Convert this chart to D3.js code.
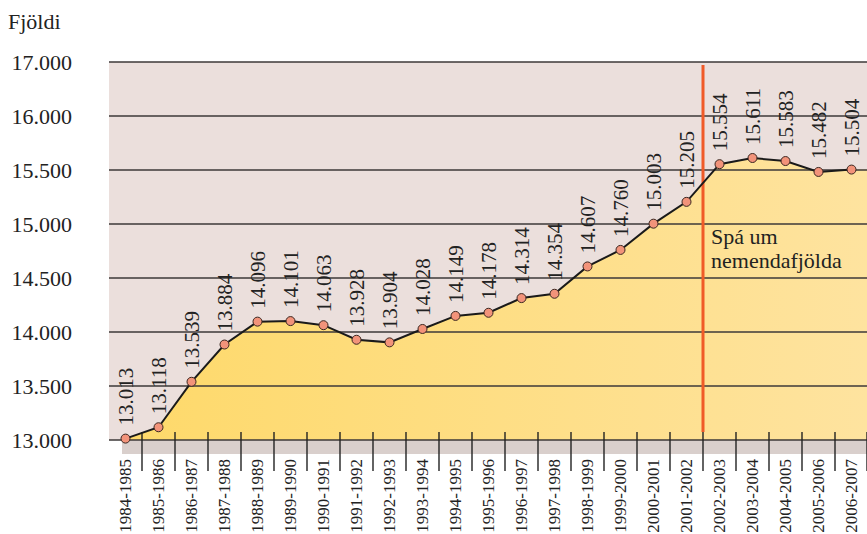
<!DOCTYPE html>
<html>
<head>
<meta charset="utf-8">
<script src="https://cdn.jsdelivr.net/npm/d3@7"></script>
<style>
  body { margin: 0; background: #fff; }
  text { font-family: "Liberation Serif", "DejaVu Serif", serif; fill: #222; }
</style>
</head>
<body>
<div id="chart"></div>
<script>
// school years and number of students
var years = ["1984-1985","1985-1986","1986-1987","1987-1988","1988-1989","1989-1990",
  "1990-1991","1991-1992","1992-1993","1993-1994","1994-1995","1995-1996","1996-1997",
  "1997-1998","1998-1999","1999-2000","2000-2001","2001-2002","2002-2003","2003-2004",
  "2004-2005","2005-2006","2006-2007"];
var students = [13013,13118,13539,13884,14096,14101,14063,13928,13904,14028,14149,14178,
  14314,14354,14607,14760,15003,15205,15554,15611,15583,15482,15504];
var yTicks = [13000,13500,14000,14500,15000,15500,16000,17000];
var forecastFrom = "2002-2003";

var svgWidth = 867;
var svgHeight = 534;

var svg = d3.select("#chart")
  .append("svg")
  .attr("width", svgWidth)
  .attr("height", svgHeight);

// x: one band per school year
var x = d3.scaleBand()
  .domain(years)
  .range([109, 868])
  .padding(0);

// y: broken axis, 16.000 -> 17.000 squeezed at the top
var y = d3.scaleLinear()
  .domain([13000, 16000, 17000])
  .range([440, 116, 62]);

var left = 109, right = svgWidth;
var fmt = d => d3.format(",")(d).replace(/,/g, ".");

var cx = d => x(d) + x.bandwidth() / 2;

// gradient for the area
var defs = svg.append("defs");
var grad = defs.append("linearGradient")
  .attr("id", "fillGrad")
  .attr("x1", "0%").attr("x2", "100%").attr("y1", "0%").attr("y2", "0%");
grad.append("stop").attr("offset", "0%").attr("stop-color", "#fed96a");
grad.append("stop").attr("offset", "100%").attr("stop-color", "#fee39f");

// background
svg.append("rect")
  .attr("x", left).attr("y", y(17000))
  .attr("width", right - left).attr("height", y(13000) - y(17000))
  .attr("fill", "#ebdfdc");

// grey band under the axis
svg.append("rect")
  .attr("x", left + 13).attr("y", y(13000))
  .attr("width", right - left - 13).attr("height", 14)
  .attr("fill", "#d9cfcc");

// area
var pts = years.map((d, i) => [cx(d), y(students[i])]);
pts.push([right, y(students[students.length - 1])]);

var area = d3.area()
  .x(d => d[0])
  .y0(y(13000))
  .y1(d => d[1]);

svg.append("path")
  .attr("d", area(pts))
  .attr("fill", "url(#fillGrad)");

// grid lines
svg.selectAll("line.grid")
  .data(yTicks)
  .enter()
  .append("line")
  .attr("x1", left).attr("x2", right)
  .attr("y1", d => y(d)).attr("y2", d => y(d))
  .attr("stroke", "#3d3838")
  .attr("stroke-width", 1.4);

// y tick labels
svg.selectAll("text.ytick")
  .data(yTicks)
  .enter()
  .append("text")
  .attr("x", 72)
  .attr("y", d => y(d))
  .attr("dy", "0.35em")
  .attr("text-anchor", "end")
  .style("font-size", "22px")
  .text(fmt);

svg.append("text")
  .attr("x", 8).attr("y", 29)
  .style("font-size", "22px")
  .text("Fjöldi");

// x ticks on the band boundaries
svg.selectAll("line.xtick")
  .data(years.slice(1).map(d => x(d)).concat([x.range()[1] - 1]))
  .enter()
  .append("line")
  .attr("x1", d => d).attr("x2", d => d)
  .attr("y1", 432).attr("y2", 471)
  .attr("stroke", "#222")
  .attr("stroke-width", 1.4);

// x labels
svg.selectAll("text.xlab")
  .data(years)
  .enter()
  .append("text")
  .attr("transform", d => `translate(${cx(d)}, 459) rotate(-90)`)
  .attr("dy", "0.35em")
  .attr("text-anchor", "end")
  .style("font-size", "17px")
  .text(d => d);

// forecast line
svg.append("line")
  .attr("x1", x(forecastFrom)).attr("x2", x(forecastFrom))
  .attr("y1", 65).attr("y2", 432)
  .attr("stroke", "#f05a28")
  .attr("stroke-width", 3);

svg.append("text")
  .attr("x", x(forecastFrom) + 8).attr("y", 244)
  .style("font-size", "22px")
  .text("Spá um");
svg.append("text")
  .attr("x", x(forecastFrom) + 8).attr("y", 268)
  .style("font-size", "22px")
  .text("nemendafjölda");

// line
var line = d3.line()
  .x((d, i) => cx(years[i]))
  .y(d => y(d));

svg.append("path")
  .attr("d", line(students))
  .attr("fill", "none")
  .attr("stroke", "#1a1a1a")
  .attr("stroke-width", 2);

// points
svg.selectAll("circle.pt")
  .data(students)
  .enter()
  .append("circle")
  .attr("cx", (d, i) => cx(years[i]))
  .attr("cy", d => y(d))
  .attr("r", 4.5)
  .attr("fill", "#f2937a")
  .attr("stroke", "#3a2620")
  .attr("stroke-width", 1);

// value labels
svg.selectAll("text.val")
  .data(students)
  .enter()
  .append("text")
  .attr("transform", (d, i) => `translate(${cx(years[i])}, ${y(d) - 13}) rotate(-90)`)
  .attr("dy", "0.35em")
  .attr("text-anchor", "start")
  .style("font-size", "21px")
  .text(fmt);
</script>
</body>
</html>
